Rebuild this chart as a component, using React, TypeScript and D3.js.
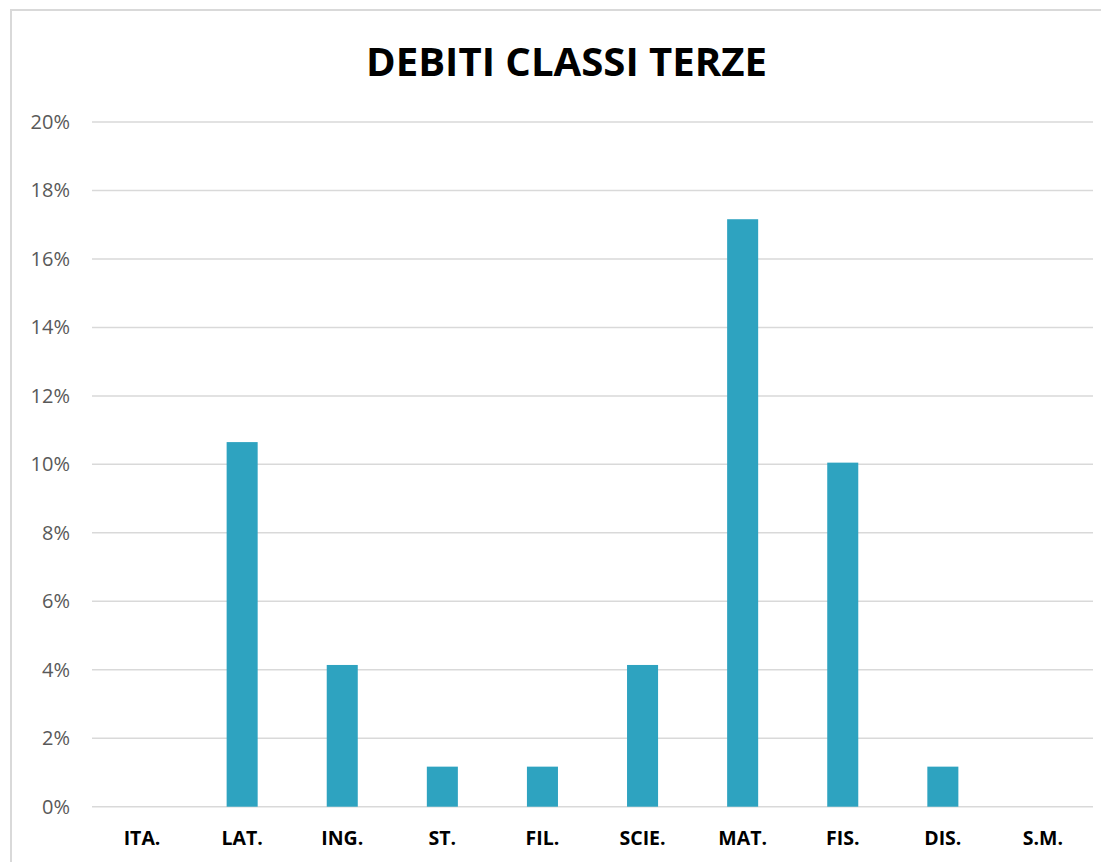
import React from "react";
import * as d3 from "d3";

const categories = ["ITA.", "LAT.", "ING.", "ST.", "FIL.", "SCIE.", "MAT.", "FIS.", "DIS.", "S.M."];
const values = [0, 0.1065, 0.0414, 0.0117, 0.0117, 0.0414, 0.1716, 0.1005, 0.0117, 0];
const yTicks = [0, 0.02, 0.04, 0.06, 0.08, 0.1, 0.12, 0.14, 0.16, 0.18, 0.2];
const title = "DEBITI CLASSI TERZE";

export default function App() {
  const W = 1101, H = 862;
  const x = d3.scaleBand<string>().domain(categories).range([92, 1093]).paddingInner(0.69).paddingOuter(0.345);
  const y = d3.scaleLinear().domain([0, 0.2]).range([806.7, 122]);
  const fmt = d3.format(".0%");
  return (
    <svg width={W} height={H} style={{ position: "absolute", left: 0, top: 0, background: "#fff" }}>
      <rect x={11} y={10} width={W + 20} height={H + 20} fill="#fff" stroke="#d9d9d9" strokeWidth={2} />
      <text x={566.5} y={75.5} textAnchor="middle" fontFamily="'Open Sans', sans-serif" fontWeight="bold" fontSize={40}
        textLength={401} lengthAdjust="spacingAndGlyphs" fill="#000">{title}</text>
      {yTicks.map((t) => (
        <g key={t}>
          <line x1={92} x2={1093} y1={y(t)} y2={y(t)} stroke="#d9d9d9" strokeWidth={1.5} />
          <text x={70} y={y(t)} dy="0.35em" textAnchor="end" fontFamily="'Open Sans', sans-serif" fontSize={20} fill="#595959">{fmt(t)}</text>
        </g>
      ))}
      {categories.map((c, i) => (
        <g key={c}>
          {values[i] > 0 && (
            <rect x={x(c)} y={y(values[i])} width={x.bandwidth()} height={y(0) - y(values[i])} fill="#2ea3c0" />
          )}
          <text x={(x(c) as number) + x.bandwidth() / 2} y={845} textAnchor="middle" fontFamily="'Open Sans', sans-serif"
            fontWeight="bold" fontSize={19.5} fill="#000">{c}</text>
        </g>
      ))}
    </svg>
  );
}
